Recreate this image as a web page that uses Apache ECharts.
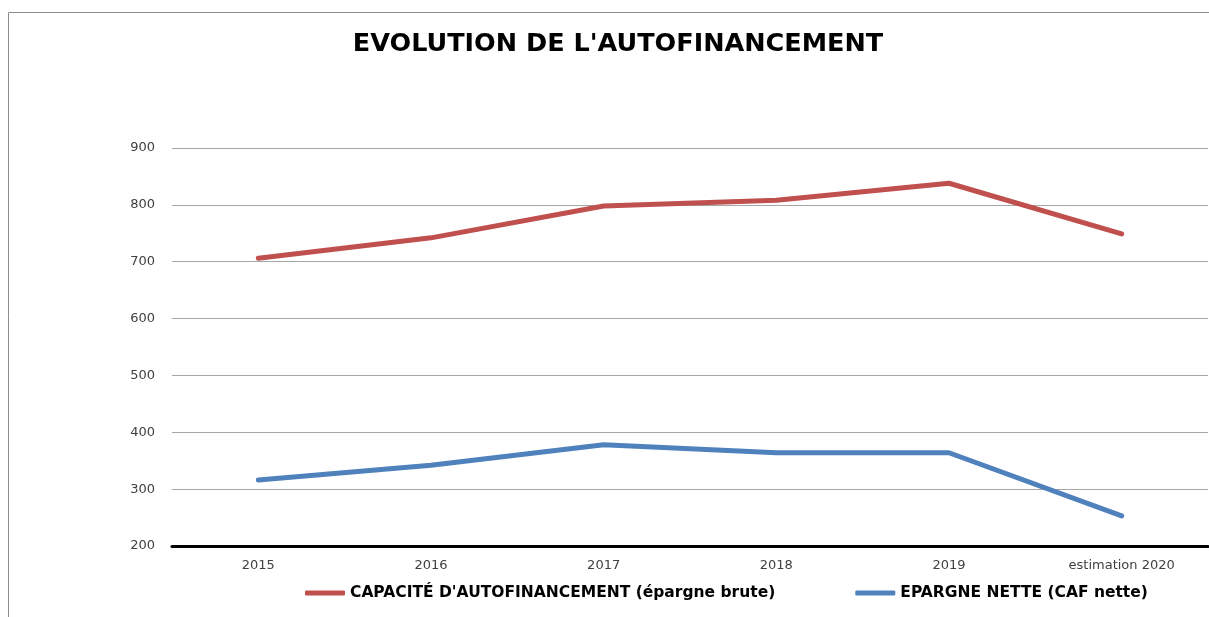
<!DOCTYPE html>
<html>
<head>
<meta charset="utf-8">
<script src="https://cdn.jsdelivr.net/npm/echarts@6/dist/echarts.min.js"></script>
<style>
  html, body { margin: 0; padding: 0; background: #fff; }
  #chart { width: 1209px; height: 617px; }
</style>
</head>
<body>
<div id="chart"></div>
<script>
// categories and values
const years = ['2015', '2016', '2017', '2018', '2019', 'estimation 2020'];
const cafBrute = [706, 742, 798, 808, 838, 749];
const epargneNette = [316, 342, 378, 364, 364, 253];
const yTicks = { min: 200, max: 900, interval: 100 };

const chart = echarts.init(document.getElementById('chart'));

const option = {
  animation: false,
  title: {
    text: "EVOLUTION DE L'AUTOFINANCEMENT",
    left: 613,
    top: 26,
    textAlign: 'center',
    textStyle: {
      fontFamily: 'DejaVu Sans',
      fontWeight: 'bold',
      fontSize: 25.5,
      color: '#000'
    }
  },
  graphic: [
    {
      type: 'rect',
      shape: { x: 8.5, y: 12.5, width: 1400, height: 800 },
      style: { fill: 'none', stroke: '#8c8c8c', lineWidth: 1 },
      silent: true
    }
  ],
  legend: {
    left: 300,
    top: 580,
    itemGap: 80,
    itemWidth: 40,
    itemHeight: 5,
    icon: 'roundRect',
    textStyle: {
      fontFamily: 'DejaVu Sans',
      fontWeight: 'bold',
      fontSize: 15.5,
      color: '#000'
    }
  },
  grid: {
    left: 172,
    right: 1,
    top: 148,
    bottom: 71
  },
  xAxis: {
    type: 'category',
    data: years,
    boundaryGap: true,
    axisLine: { lineStyle: { color: '#000', width: 3 } },
    axisTick: { show: false },
    axisLabel: {
      fontFamily: 'DejaVu Sans',
      fontSize: 13,
      color: '#404040',
      margin: 13
    }
  },
  yAxis: {
    type: 'value',
    min: yTicks.min,
    max: yTicks.max,
    interval: yTicks.interval,
    axisLine: { show: false },
    axisTick: { show: false },
    axisLabel: {
      fontFamily: 'DejaVu Sans',
      fontSize: 13,
      color: '#404040',
      margin: 17
    },
    splitLine: { lineStyle: { color: '#a6a6a6', width: 1 } }
  },
  series: [
    {
      name: "CAPACITÉ D'AUTOFINANCEMENT (épargne brute)",
      type: 'line',
      data: cafBrute,
      symbol: 'none',
      color: '#c0504d',
      lineStyle: { width: 5, cap: 'round', join: 'round' }
    },
    {
      name: 'EPARGNE NETTE (CAF nette)',
      type: 'line',
      data: epargneNette,
      symbol: 'none',
      color: '#4f81bd',
      lineStyle: { width: 5, cap: 'round', join: 'round' }
    }
  ]
};

chart.setOption(option);
</script>
</body>
</html>
